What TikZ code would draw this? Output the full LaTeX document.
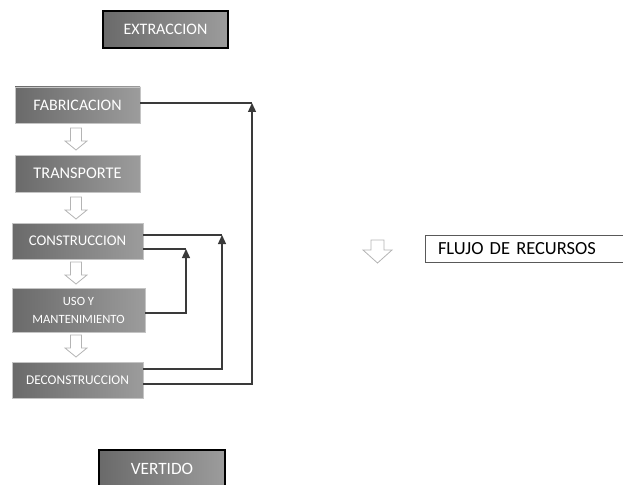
\documentclass[tikz,border=0pt]{standalone}
\usepackage{fontspec}
\setmainfont{Carlito}
\usetikzlibrary{arrows.meta,shadings}
\definecolor{linecol}{HTML}{3A3A3A}
\definecolor{boxedge}{HTML}{C4C4C4}
\definecolor{arredge}{HTML}{B4B4B4}
\definecolor{boxdark}{HTML}{6A6A6A}
\definecolor{boxlight}{HTML}{9C9C9C}
\tikzset{
  box/.style={rectangle, inner sep=0pt, draw=boxedge, line width=0.6pt,
    left color=boxdark, right color=boxlight,
    text=white, align=center},
  endbox/.style={box, draw=black, line width=2.6pt},
  conn/.style={draw=linecol, line width=1.3pt},
  up/.style={conn, -{Triangle[length=9pt,width=8pt]}},
  hollow/.style={draw=arredge, fill=white, line width=0.8pt, line join=miter},
  pics/harrow/.style={code={
    \draw[hollow] (-5.5,0) -- (5.5,0) -- (5.5,13) -- (11,13) -- (0,22) -- (-11,13) -- (-5.5,13) -- cycle;
  }},
  pics/harrowbig/.style={code={
    \draw[hollow] (-6.5,0) -- (6.5,0) -- (6.5,10) -- (14.5,10) -- (0,23) -- (-14.5,10) -- (-6.5,10) -- cycle;
  }}
}
\begin{document}
\begin{tikzpicture}[x=1pt,y=-1pt]
\useasboundingbox (0,0) rectangle (623,484);

\node[endbox, minimum width=125pt, minimum height=37pt, font=\fontsize{16}{19}\selectfont] (extr) at (165.5,29.5) {EXTRACCION};
\node[box, minimum width=125pt, minimum height=36pt, font=\fontsize{16}{19}\selectfont] (fab) at (77.5,105) {FABRICACION};
\node[box, minimum width=125pt, minimum height=37pt, font=\fontsize{16.3}{19}\selectfont] (trans) at (77.5,173.5) {TRANSPORTE};
\node[box, minimum width=131pt, minimum height=36pt, font=\fontsize{14.8}{18}\selectfont] (constr) at (77.5,241) {CONSTRUCCION};
\node[box, minimum width=133pt, minimum height=44pt, font=\fontsize{12.6}{18}\selectfont] (uso) at (78.5,310) {USO Y\\MANTENIMIENTO};
\node[box, minimum width=131pt, minimum height=36pt, font=\fontsize{13.4}{16}\selectfont] (decon) at (77.5,380) {DECONSTRUCCION};
\node[endbox, minimum width=126pt, minimum height=37pt, font=\fontsize{17.3}{20}\selectfont] (vert) at (162,468.5) {VERTIDO};

\node[rectangle, draw=black!65, line width=0.7pt, fill=white, minimum width=198pt, minimum height=27pt,
  inner xsep=13pt, inner ysep=0pt, text width=172pt, align=left, font=\fontsize{18.5}{21}\selectfont] (flujo) at (524,248.5) {FLUJO DE RECURSOS};

\pic (a1) at (76,128) {harrow};
\pic (a2) at (76,197) {harrow};
\pic (a3) at (76,262) {harrow};
\pic (a4) at (76,335) {harrow};
\pic (a5) at (377.5,240) {harrowbig};

\coordinate (k1) at (252,103);
\coordinate (k2) at (222,235);
\coordinate (k3) at (186,249);

\draw[conn] ([yshift=2pt]fab.east) -- (k1);
\draw[up] ([yshift=-4pt]decon.east) -| (k1);
\draw[conn] ([yshift=6pt]constr.east) -- (k2);
\draw[up] ([yshift=11pt]decon.east) -| (k2);
\draw[conn] ([yshift=-8pt]constr.east) -- (k3);
\draw[up] ([yshift=-3pt]uso.east) -| (k3);
\end{tikzpicture}
\end{document}
